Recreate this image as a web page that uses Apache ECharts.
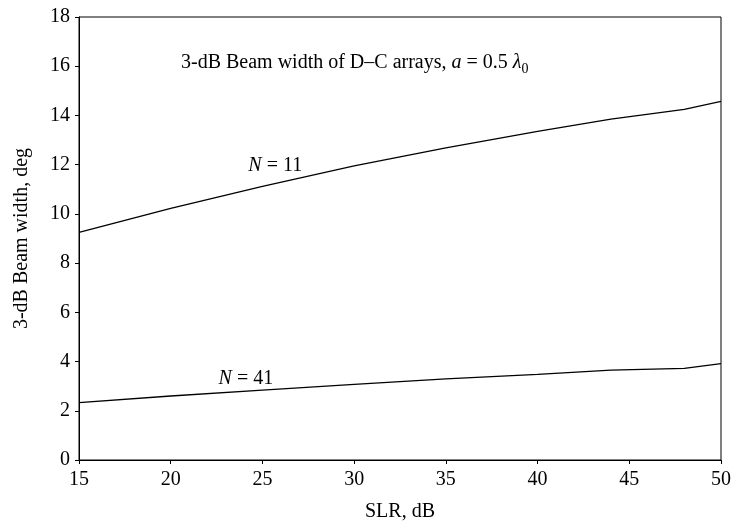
<!DOCTYPE html>
<html><head><meta charset="utf-8">
<script src="https://cdn.jsdelivr.net/npm/echarts@6/dist/echarts.min.js"></script>
<style>html,body{margin:0;padding:0;background:#fff}#c{width:732px;height:523px}</style>
</head><body><div id="c"></div>
<script>
const slr = [15, 20, 25, 30, 35, 40, 44, 48, 50];
const bw11 = [9.25, 10.22, 11.12, 11.95, 12.68, 13.35, 13.85, 14.25, 14.57];
const bw41 = [2.33, 2.6, 2.84, 3.07, 3.3, 3.48, 3.65, 3.72, 3.92];
const xTicks = [15, 20, 25, 30, 35, 40, 45, 50];
const yTicks = [0, 2, 4, 6, 8, 10, 12, 14, 16, 18];
const FONT = '"Liberation Serif", "DejaVu Serif", serif';
const FS = 20;
const chart = echarts.init(document.getElementById('c'));
function pairs(xs, ys){ return xs.map((x,i)=>[x, ys[i]]); }
chart.setOption({
  animation: false,
  backgroundColor: '#fff',
  title: {
    text: '{n|3-dB Beam width of D–C arrays, }{i|a}{n| = 0.5 }{i|λ}{s|0}',
    left: 176, top: 45,
    textStyle: {
      fontWeight: 'normal',
      rich: {
        n: {fontFamily: FONT, fontSize: FS, fontWeight: 'normal', color: '#000'},
        i: {fontFamily: FONT, fontSize: FS, fontStyle: 'italic', fontWeight: 'normal', color: '#000'},
        s: {fontFamily: FONT, fontSize: 14, fontWeight: 'normal', color: '#000', padding: [12, 0, 0, 0]}
      }
    }
  },
  grid: {left: 79, right: 11, top: 17, bottom: 63, show: true, borderColor: '#000', borderWidth: 1,
    containLabel: false, outerBoundsMode: 'none'},
  xAxis: {
    type: 'value', min: 15, max: 50, interval: 5,
    name: 'SLR, dB', nameLocation: 'middle', nameGap: 42,
    nameTextStyle: {fontFamily: FONT, fontSize: FS, color: '#000'},
    axisLine: {show: true, lineStyle: {color: '#000', width: 1}},
    axisTick: {show: true, inside: false, length: 4, lineStyle: {color: '#000'}},
    axisLabel: {fontFamily: FONT, fontSize: FS, color: '#000', margin: 10,
      formatter: v => xTicks.includes(v) ? String(v) : ''},
    splitLine: {show: false}
  },
  yAxis: {
    type: 'value', min: 0, max: 18, interval: 2,
    name: '3-dB Beam width, deg', nameLocation: 'middle', nameGap: 47,
    nameTextStyle: {fontFamily: FONT, fontSize: FS, color: '#000'},
    axisLine: {show: true, lineStyle: {color: '#000', width: 1}},
    axisTick: {show: true, inside: false, length: 4, lineStyle: {color: '#000'}},
    axisLabel: {fontFamily: FONT, fontSize: FS, color: '#000', margin: 9,
      formatter: v => yTicks.includes(v) ? String(v) : ''},
    splitLine: {show: false}
  },
  series: [
    {
      type: 'line', name: 'N = 11', data: pairs(slr, bw11), symbol: 'none',
      lineStyle: {color: '#000', width: 1.3},
      markPoint: {
        symbol: 'circle', symbolSize: 0,
        data: [{coord: [25.7, 11.95]}],
        label: {show: true, position: 'inside', formatter: '{i|N}{n| = 11}',
          rich: {i: {fontFamily: FONT, fontSize: FS, fontStyle: 'italic', color: '#000'},
                 n: {fontFamily: FONT, fontSize: FS, color: '#000'}}}
      }
    },
    {
      type: 'line', name: 'N = 41', data: pairs(slr, bw41), symbol: 'none',
      lineStyle: {color: '#000', width: 1.3},
      markPoint: {
        symbol: 'circle', symbolSize: 0,
        data: [{coord: [24.1, 3.3]}],
        label: {show: true, position: 'inside', formatter: '{i|N}{n| = 41}',
          rich: {i: {fontFamily: FONT, fontSize: FS, fontStyle: 'italic', color: '#000'},
                 n: {fontFamily: FONT, fontSize: FS, color: '#000'}}}
      }
    }
  ]
});
</script></body></html>
